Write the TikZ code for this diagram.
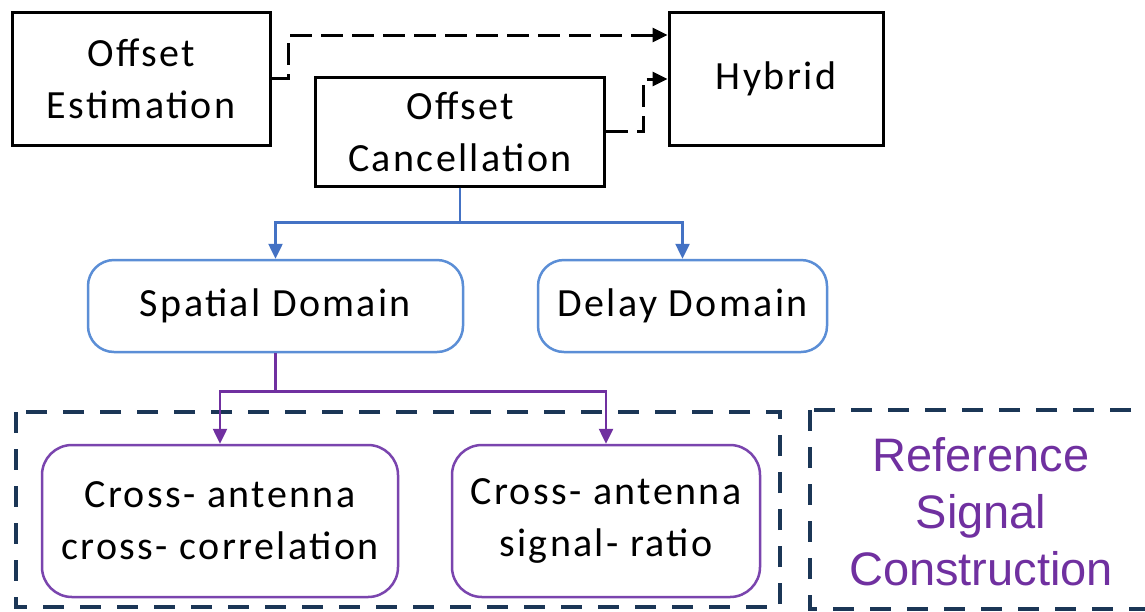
\documentclass[tikz,border=0pt]{standalone}
\usepackage{fontspec}
\setmainfont{Carlito}[LetterSpace=6]
\newfontfamily\arialfont{Liberation Sans}
\usetikzlibrary{arrows.meta}
\definecolor{linkblue}{HTML}{4472C4}
\definecolor{boxblue}{HTML}{5B8ED6}
\definecolor{purp}{HTML}{7030A0}
\definecolor{purpedge}{HTML}{7A45AE}
\definecolor{navy}{HTML}{1B3656}
\tikzset{
  txt/.style={font=\fontsize{40}{52}\selectfont, align=center},
  blackbox/.style={txt, draw=black, line width=3pt, inner sep=0pt},
  bluebox/.style={txt, draw=boxblue, line width=2.5pt, rounded corners=26pt, inner sep=0pt},
  purpbox/.style={txt, draw=purpedge, line width=2.5pt, rounded corners=30pt, inner sep=0pt},
  dasharrow/.style={draw=black, line width=3pt, dash pattern=on 22pt off 9pt, -{Triangle[length=15pt,width=14pt]}},
  bluearrow/.style={draw=linkblue, line width=2.5pt, -{Triangle[length=15pt,width=14pt]}},
  purparrow/.style={draw=purp, line width=2.5pt, -{Triangle[length=15pt,width=14pt]}},
  groupbox/.style={draw=navy, line width=4pt, dash pattern=on 21pt off 16pt},
}
\begin{document}
\begin{tikzpicture}[x=1pt,y=-1pt]
\clip (0,0) rectangle (1145,611);
\fill[white] (0,0) rectangle (1145,611);
% boxes
\node[blackbox, minimum width=258pt, minimum height=133pt] (est) at (141,78.5) {Offset\\Estimation};
\node[blackbox, minimum width=214pt, minimum height=133pt] (hyb) at (776,78.5) {Hybrid};
\node[blackbox, minimum width=289pt, minimum height=109pt] (canc) at (460,131.5) {Offset\\Cancellation};
\node[bluebox, minimum width=375pt, minimum height=92pt] (spat) at (275.5,306) {Spatial Domain};
\node[bluebox, minimum width=289pt, minimum height=92pt] (delay) at (682.5,306) {Delay Domain};
\node[purpbox, minimum width=356pt, minimum height=152pt] (cc) at (220,521) {Cross- antenna\\cross- correlation};
\node[purpbox, minimum width=308pt, minimum height=152pt] (sr) at (606,521) {Cross- antenna\\signal- ratio};
% group boxes
\draw[groupbox] (16,412) rectangle (780,607);
\draw[groupbox] (810,410) rectangle (1160,609);
\node[font=\arialfont\fontsize{47}{57}\selectfont, text=purp, align=center] (ref) at (981,512) {Reference\\Signal\\Construction};
% connectors
\coordinate (h1) at (hyb.west |- 0,35);
\coordinate (h2) at (hyb.west |- 0,79);
\draw[dasharrow] (est.east) -- ++(17,0) |- (h1);
\draw[dasharrow] (canc.east) -- ++(37,0) |- (h2);
\draw[bluearrow] (canc.south) -- ++(0,35) -| (spat.north);
\draw[bluearrow] (canc.south) -- ++(0,35) -| (delay.north);
\draw[purparrow] (spat.south) -- ++(0,38) -| (cc.north);
\draw[purparrow] (spat.south) -- ++(0,38) -| (sr.north);
\end{tikzpicture}
\end{document}
